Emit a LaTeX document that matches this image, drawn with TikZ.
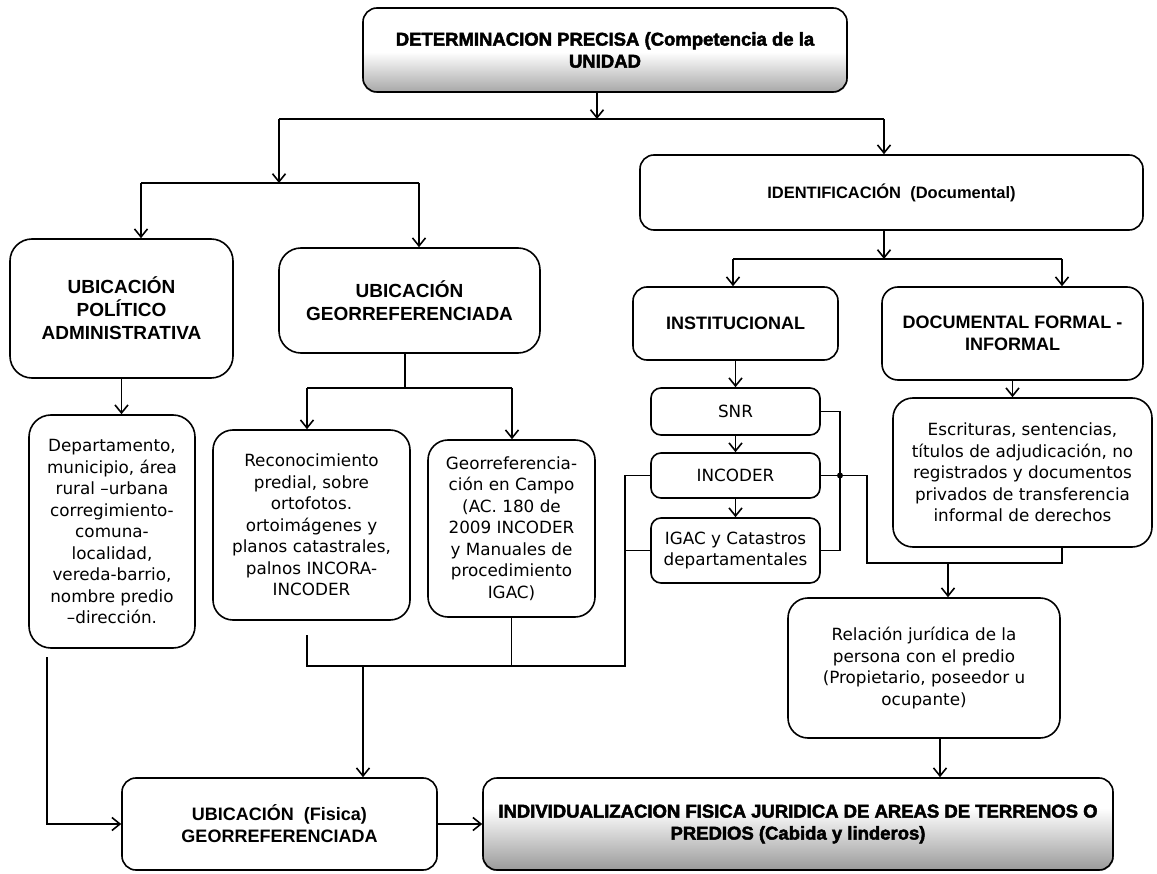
\documentclass[tikz,border=0pt]{standalone}
\usepackage{fontspec}
\setmainfont{DejaVu Sans}
\newfontfamily\hdr{Liberation Sans}
\newfontface\heavy{Liberation Sans Bold}[FakeBold=2.5]
\usetikzlibrary{arrows.meta,calc}
\pgfdeclarelayer{background}
\pgfsetlayers{background,main}
\begin{document}
\begin{tikzpicture}[x=1pt,y=-1pt,
 box/.style={draw=black, line width=1.6pt, rounded corners=20pt, align=center, inner sep=0pt, fill=white},
 body/.style={box, font=\fontsize{16.8}{21.5}\selectfont},
 hbox/.style={box, font=\hdr\bfseries\fontsize{18}{22}\selectfont},
 bighbox/.style={box, font=\hdr\bfseries\fontsize{19}{23}\selectfont},
 heavybox/.style={box, fill=none, font=\heavy\fontsize{18.5}{22}\selectfont},
 small/.style={body, rounded corners=10pt},
 conn/.style={line width=1.6pt},
 arr/.style={conn, -{Straight Barb[length=8pt,width=13pt]}},
]
\useasboundingbox (0,0) rectangle (1157,874);

% ---- nodes ----
\node[heavybox, rounded corners=14pt, minimum width=484, minimum height=84] (top) at (605,50) {DETERMINACION PRECISA (Competencia de la\\UNIDAD};
\node[bighbox, minimum width=223, minimum height=139, rounded corners=22pt] (poladm) at (121.5,308.5) {UBICACIÓN\\POLÍTICO\\ADMINISTRATIVA};
\node[bighbox, minimum width=261, minimum height=105, rounded corners=22pt] (georef) at (409.5,300.5) {UBICACIÓN\\GEORREFERENCIADA};
\node[hbox, font=\hdr\bfseries\fontsize{16.5}{21}\selectfont, minimum width=503, minimum height=75, rounded corners=14pt] (ident) at (891.5,192.5) {IDENTIFICACIÓN\ \ (Documental)};
\node[hbox, minimum width=205, minimum height=73, rounded corners=14pt] (inst) at (735.5,323.5) {INSTITUCIONAL};
\node[hbox, minimum width=261, minimum height=93, rounded corners=16pt] (docf) at (1012.5,333.5) {DOCUMENTAL FORMAL -\\INFORMAL};
\node[body, minimum width=166, minimum height=233, rounded corners=22pt] (dep) at (112,531.5) {Departamento,\\municipio, área\\rural –urbana\\corregimiento-\\comuna-\\localidad,\\vereda-barrio,\\nombre predio\\–dirección.};
\node[body, minimum width=197, minimum height=190] (recon) at (311.5,525) {Reconocimiento\\predial, sobre\\ortofotos.\\ortoimágenes y\\planos catastrales,\\palnos INCORA-\\INCODER};
\node[body, minimum width=167, minimum height=177] (georc) at (511.5,528.5) {Georreferencia-\\ción en Campo\\(AC. 180 de\\2009 INCODER\\y Manuales de\\procedimiento\\IGAC)};
\node[small, minimum width=169, minimum height=47] (snr) at (735.5,411.5) {SNR};
\node[small, minimum width=169, minimum height=45] (incoder) at (735.5,475.5) {INCODER};
\node[small, minimum width=169, minimum height=65] (igac) at (735.5,550.5) {IGAC y Catastros\\departamentales};
\node[body, minimum width=259, minimum height=149] (escr) at (1022.5,472.5) {Escrituras, sentencias,\\títulos de adjudicación, no\\registrados y documentos\\privados de transferencia\\informal de derechos};
\node[body, minimum width=272, minimum height=140] (rel) at (924,668) {Relación jurídica de la\\persona con el predio\\(Propietario, poseedor u\\ocupante)};
\node[hbox, minimum width=315, minimum height=92, rounded corners=14pt] (fisica) at (279.5,824) {UBICACIÓN\ \ (Fisica)\\GEORREFERENCIADA};
\node[heavybox, minimum width=630, minimum height=92, rounded corners=14pt] (indiv) at (798,824) {INDIVIDUALIZACION FISICA JURIDICA DE AREAS DE TERRENOS O\\PREDIOS (Cabida y linderos)};

% ---- shaded backgrounds ----
\coordinate (tm) at (0,52);
\coordinate (im) at (0,808);
\begin{pgfonlayer}{background}
\fill[white] (0,0) rectangle (1157,874);
\begin{scope}
\clip[rounded corners=14pt] (top.south west) rectangle (top.north east);
\fill[white] (top.south west) rectangle (top.north east);
\shade[top color=white, bottom color=black!35] (top.south west |- tm) rectangle (top.south east);
\end{scope}
\begin{scope}
\clip[rounded corners=14pt] (indiv.south west) rectangle (indiv.north east);
\fill[white] (indiv.south west) rectangle (indiv.north east);
\shade[top color=white, bottom color=black!40] (indiv.south west |- im) rectangle (indiv.south east);
\end{scope}
\end{pgfonlayer}

% ---- connectors: top level ----
\coordinate (j1) at (597,119);
\coordinate (j1L) at (279,119);
\coordinate (j1R) at (884,119);
\coordinate (j2) at (279,183);
\coordinate (j2L) at (141,183);
\coordinate (j2R) at (419,183);
\draw[arr] (top.south -| j1) -- (j1);
\draw[conn] (j1L) -- (j1R);
\draw[arr] (j1L) -- (j2);
\draw[conn] (j2L) -- (j2R);
\draw[arr] (j2L) -- (j2L |- poladm.north);
\draw[arr] (j2R) -- (j2R |- georef.north);
\draw[arr] (j1R) -- (j1R |- ident.north);

% ---- identification branch ----
\coordinate (j3) at (884,259);
\coordinate (j3L) at (733,259);
\coordinate (j3R) at (1062,259);
\draw[arr] (j3 |- ident.south) -- (j3);
\draw[conn] (j3L) -- (j3R);
\draw[arr] (j3L) -- (j3L |- inst.north);
\draw[arr] (j3R) -- (j3R |- docf.north);
\draw[arr] (docf.south) -- (docf.south |- escr.north);
\draw[arr] (inst.south) -- (snr.north);
\draw[arr] (snr.south) -- (incoder.north);
\draw[arr] (incoder.south) -- (igac.north);

% ---- ubicacion branch ----
\draw[arr] (poladm.south) -- (poladm.south |- dep.north);
\coordinate (h) at (405,388);
\coordinate (hL) at (307,388);
\coordinate (hR) at (512,388);
\draw[conn] (h |- georef.south) -- (h);
\draw[conn] (hL) -- (hR);
\draw[arr] (hL) -- (hL |- recon.north);
\draw[arr] (hR) -- (hR |- georc.north);

% ---- lower joins ----
\coordinate (r0) at (307,635);
\coordinate (r1) at (307,666);
\coordinate (k) at (625,666);
\coordinate (g0) at (363,666);
\draw[conn] (r0) -- (r1) -- (k) -- (k |- incoder.west) -- (incoder.west);
\draw[conn] (k |- igac.west) -- (igac.west);
\draw[conn] (georc.south) -- (georc.south |- k);
\draw[arr] (g0) -- (g0 |- fisica.north);

\coordinate (d0) at (47,657);
\draw[arr] (d0) -- (d0 |- fisica.west) -- (fisica.west);
\draw[arr] (fisica.east) -- (indiv.west);

% ---- right joins ----
\coordinate (m) at (840,475.5);
\coordinate (m2) at (867,563);
\coordinate (m3) at (1062,563);
\coordinate (m4) at (948,563);
\coordinate (n0) at (940,738);
\draw[conn] (snr.east) -- (snr.east -| m) -- (igac.east -| m) -- (igac.east);
\draw[conn] (incoder.east) -- (m);
\fill (m) circle (3);
\draw[conn] (m) -- (m -| m2) -- (m2) -- (m3) -- (m3 |- escr.south);
\draw[arr] (m4) -- (m4 |- rel.north);
\draw[arr] (n0 |- rel.south) -- (n0 |- indiv.north);
\end{tikzpicture}
\end{document}
